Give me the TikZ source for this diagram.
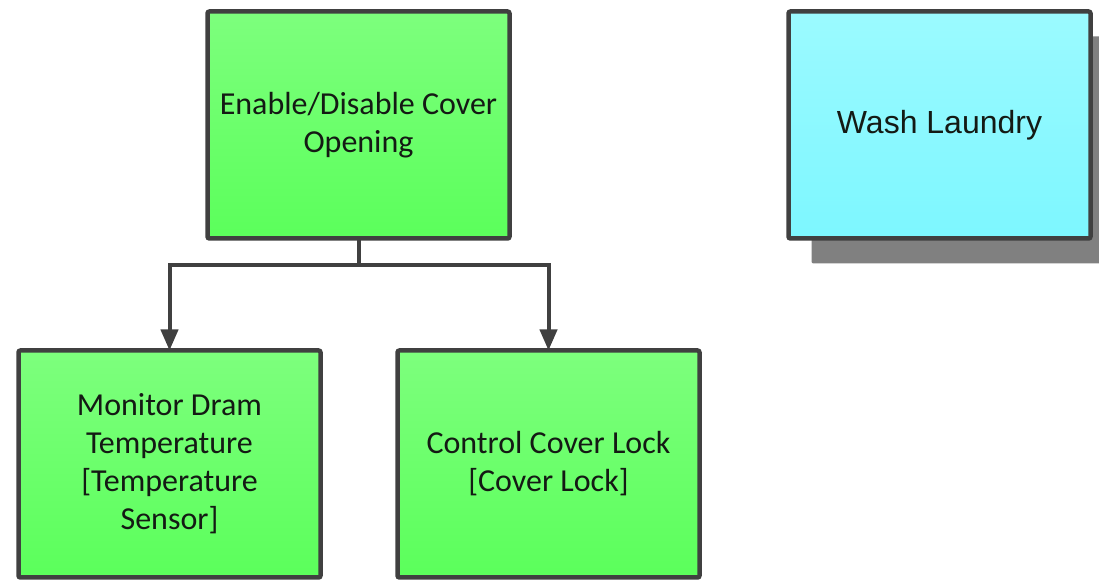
\documentclass[tikz,border=0pt]{standalone}
\usepackage{fontspec}
\setmainfont{Carlito}
\newfontfamily\arialfont{Liberation Sans}
\usetikzlibrary{positioning,arrows.meta,shadows}
\definecolor{lineGray}{HTML}{404040}
\definecolor{textGray}{HTML}{141A14}
\definecolor{greenTop}{HTML}{7DFF7D}
\definecolor{greenBot}{HTML}{5BFF5B}
\definecolor{cyanTop}{HTML}{9BFAFF}
\definecolor{cyanBot}{HTML}{7DF7FF}
\definecolor{shadowGray}{HTML}{808080}
\begin{document}
\begin{tikzpicture}[
  x=1pt, y=1pt,
  fbox/.style={draw=lineGray, line width=4.5pt, rounded corners=2pt,
    minimum width=302pt, minimum height=227pt, outer sep=0pt,
    align=center, text=textGray, font=\fontsize{32}{38}\selectfont},
  func/.style={fbox, top color=greenTop, bottom color=greenBot},
  goal/.style={fbox, top color=cyanTop, bottom color=cyanBot,
    font=\arialfont\fontsize{32}{38}\selectfont,
    drop shadow={shadow xshift=23pt, shadow yshift=-25pt, fill=shadowGray, opacity=1}},
  conn/.style={draw=lineGray, line width=4pt, -{Triangle[width=17pt,length=21pt]}}
]
\useasboundingbox (0,0) rectangle (1099,580);
\node[func] (cover) at (358.5,455) {Enable/Disable Cover\\Opening};
\node[goal] (wash)  at (939.5,455) {Wash Laundry};
\node[func] (temp)  at (169.5,116) {Monitor Dram\\Temperature\\{[Temperature}\\Sensor]};
\node[func] (lock)  at (548.5,116) {Control Cover Lock\\{[Cover Lock]}};

\coordinate (split) at ([yshift=-27pt]cover.south);
\draw[conn] (cover.south) -- (split) -| (temp.north);
\draw[conn] (split) -| (lock.north);
\end{tikzpicture}
\end{document}
